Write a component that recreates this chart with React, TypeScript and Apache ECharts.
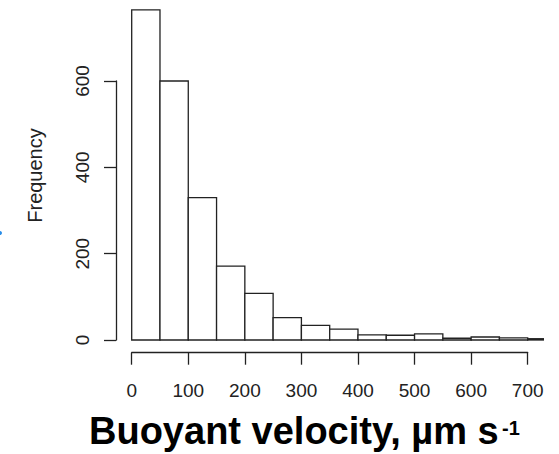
import React, { useEffect, useRef } from "react";
import * as echarts from "echarts";

// Histogram bins (µm s^-1) and counts
const binStarts = [0, 50, 100, 150, 200, 250, 300, 350, 400, 450, 500, 550, 600, 650, 700];
const binWidth = 50;
const counts = [765, 600, 330, 171, 108, 52, 34, 25, 12, 11, 14, 4, 7, 5, 3];
const xTicks = [0, 100, 200, 300, 400, 500, 600, 700];
const yTicks = [0, 200, 400, 600];
const yLabel = "Frequency";
const xTitle = "Buoyant velocity, µm s";
const xTitleSup = "-1";

const INK = "#222";
const FONT = "'Liberation Sans', Arial, Helvetica, sans-serif";

export default function App() {
  const ref = useRef<HTMLDivElement>(null);
  useEffect(() => {
    if (!ref.current) return;
    const chart = echarts.init(ref.current, undefined, { renderer: "svg" });
    const data = binStarts.map((s, i) => [s, s + binWidth, counts[i]]);
    const W = 559, H = 454;
    const x0px = 131.7, x700px = 527.7, clipRight = 543.3;
    const y0px = 340, y600px = 81;
    const xs = (x700px - x0px) / 700;
    const ys = (y0px - y600px) / 600;
    const dataXMax = (clipRight - x0px) / xs;
    const gridBottomPx = 346;
    const dataYMin = -(gridBottomPx - y0px) / ys;
    const dataYMax = y0px / ys;
    chart.setOption({
      animation: false,
      textStyle: { fontFamily: FONT },
      grid: [
        { left: x0px, right: W - clipRight, top: 0, bottom: H - gridBottomPx, containLabel: false },
        { left: x0px, right: W - x700px, top: y600px, bottom: H - y0px, containLabel: false },
      ],
      xAxis: [
        { gridIndex: 0, type: "value", min: 0, max: dataXMax, show: false },
        {
          gridIndex: 1,
          type: "value",
          position: "bottom",
          min: xTicks[0],
          max: xTicks[xTicks.length - 1],
          interval: 100,
          offset: 12.7,
          axisLine: { show: true, onZero: false, lineStyle: { color: INK, width: 1.3 } },
          axisTick: { show: true, length: 12, lineStyle: { color: INK, width: 1.3 } },
          axisLabel: { show: true, margin: 28, fontSize: 19, color: INK, fontFamily: FONT },
          splitLine: { show: false },
        },
      ],
      yAxis: [
        { gridIndex: 0, type: "value", min: dataYMin, max: dataYMax, show: false },
        {
          gridIndex: 1,
          type: "value",
          position: "left",
          min: yTicks[0],
          max: yTicks[yTicks.length - 1],
          interval: 200,
          offset: 15.7,
          axisLine: { show: true, onZero: false, lineStyle: { color: INK, width: 1.3 } },
          axisTick: { show: true, length: 12, lineStyle: { color: INK, width: 1.3 } },
          axisLabel: { show: true, margin: 24, rotate: 90, fontSize: 19, color: INK, fontFamily: FONT },
          splitLine: { show: false },
        },
      ],
      series: [
        {
          type: "custom",
          xAxisIndex: 0,
          yAxisIndex: 0,
          clip: true,
          data,
          renderItem: (params: any, api: any) => {
            const a = api.coord([api.value(0), 0]);
            const b = api.coord([api.value(1), api.value(2)]);
            return {
              type: "rect",
              shape: { x: a[0], y: b[1], width: b[0] - a[0], height: a[1] - b[1] },
              style: { fill: "#fff", stroke: INK, lineWidth: 1.3 },
            };
          },
        },
      ],
      graphic: [
        {
          type: "text",
          x: 35,
          y: 175.5,
          rotation: Math.PI / 2,
          style: { text: yLabel, fontSize: 20, fill: INK, fontFamily: FONT, align: "center", verticalAlign: "middle" },
        },
        {
          type: "text",
          x: 89,
          y: 431,
          style: { text: xTitle, fontSize: 38, fontWeight: "bold", fill: "#000", fontFamily: FONT, align: "left", verticalAlign: "middle" },
        },
        {
          type: "text",
          x: 502,
          y: 418,
          style: { text: xTitleSup, fontSize: 20, fontWeight: "bold", fill: "#000", fontFamily: FONT, align: "left", verticalAlign: "top" },
        },
        {
          type: "circle",
          shape: { cx: 0, cy: 233, r: 2 },
          style: { fill: "#2a8ee8" },
        },
      ],
    });
    return () => chart.dispose();
  }, []);
  return <div ref={ref} style={{ position: "fixed", left: 0, top: 0, width: 559, height: 454, background: "#fff" }} />;
}
